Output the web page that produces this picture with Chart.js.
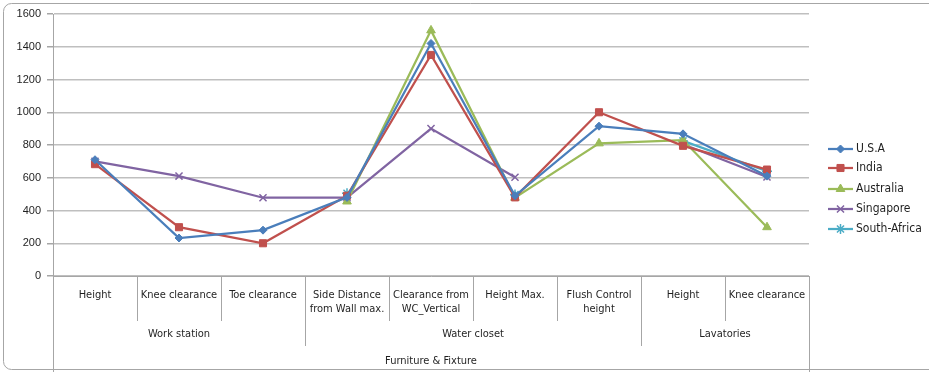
<!DOCTYPE html>
<html>
<head>
<meta charset="utf-8">
<script src="https://cdn.jsdelivr.net/npm/chart.js@4/dist/chart.umd.min.js"></script>
<style>
  html, body { margin: 0; padding: 0; background: #ffffff; }
  #wrap { width: 929px; height: 374px; position: relative; }
</style>
</head>
<body>
<div id="wrap"><canvas id="c" width="929" height="374"></canvas></div>
<script>
// Category names (bottom row of the x axis)
const categories = [
  'Height', 'Knee clearance', 'Toe clearance',
  ['Side Distance', 'from Wall max.'], ['Clearance from', 'WC_Vertical'], 'Height Max.',
  ['Flush Control', 'height'],
  'Height', 'Knee clearance'
];
// Groups: [label, first index, last index]
const groups = [
  ['Work station', 0, 2],
  ['Water closet', 3, 6],
  ['Lavatories', 7, 8]
];
const topGroup = 'Furniture & Fixture';

const yTicks = [0, 200, 400, 600, 800, 1000, 1200, 1400, 1600];

// Series values (mm)
const usa         = [710, 232, 280, 480, 1420, 490, 915, 868, 610];
const india       = [683, 298, 200, 490, 1350, 480, 1000, 795, 650];
const australia   = [null, null, null, 455, 1500, 478, 810, 830, 298];
const singapore   = [700, 610, 478, 478, 900, 603, null, 805, 605];
const southAfrica = [null, null, null, 505, null, 498, null, 825, 640];

const seriesNames = ['U.S.A', 'India', 'Australia', 'Singapore', 'South-Africa'];
const seriesData = [usa, india, australia, singapore, southAfrica];
const colors = ['#4a7ebb', '#c0504d', '#9bbb59', '#8064a2', '#4bacc6'];
const markers = ['rectRot', 'rect', 'triangle', 'crossRot', 'star'];
const radii = [4, 5, 5, 5, 5];

const FONT = "'Liberation Sans Narrow', 'DejaVu Sans Condensed', sans-serif";
const TEXT = '#1f1f1f';

const datasets = seriesData.map((d, i) => ({
  label: seriesNames[i],
  data: d,
  borderColor: colors[i],
  backgroundColor: colors[i],
  borderWidth: 2.25,
  pointStyle: markers[i],
  pointRadius: radii[i],
  pointBorderWidth: (markers[i] === 'crossRot' || markers[i] === 'star') ? 1.5 : 1,
  pointBorderColor: colors[i],
  pointBackgroundColor: colors[i],
  spanGaps: false,
  tension: 0
}));

// Multi-level category axis: dividers and group labels under the x axis
const groupAxis = {
  id: 'groupAxis',
  afterDraw(chart) {
    const ctx = chart.ctx;
    const area = chart.chartArea;
    const n = categories.length;
    const step = (area.right - area.left) / n;
    const edge = i => area.left + step * i;
    const y0 = area.bottom;
    ctx.save();
    ctx.strokeStyle = '#a6a6a6';
    ctx.lineWidth = 1;
    // short dividers between categories
    for (let i = 1; i < n; i++) {
      const isGroupEdge = groups.some(g => g[1] === i);
      const len = isGroupEdge ? 70 : 45;
      const px = Math.round(edge(i)) + 0.5;
      ctx.beginPath(); ctx.moveTo(px, y0); ctx.lineTo(px, y0 + len); ctx.stroke();
    }
    // outer edges
    [0, n].forEach(i => {
      const px = Math.round(edge(i)) + 0.5;
      ctx.beginPath(); ctx.moveTo(px, y0); ctx.lineTo(px, y0 + 96); ctx.stroke();
    });
    // group labels
    ctx.fillStyle = TEXT;
    ctx.font = '11px ' + FONT;
    ctx.textAlign = 'center';
    ctx.textBaseline = 'middle';
    groups.forEach(g => {
      const cx = (edge(g[1]) + edge(g[2] + 1)) / 2;
      ctx.fillText(g[0], cx, y0 + 58);
    });
    ctx.fillText(topGroup, (edge(0) + edge(n)) / 2, y0 + 85);
    ctx.restore();
  }
};

// Legend with a line through each marker
const lineLegend = {
  id: 'lineLegend',
  afterDraw(chart) {
    const ctx = chart.ctx;
    const ys = [149, 168, 189, 209, 229];
    ctx.save();
    chart.data.datasets.forEach((ds, i) => {
      const y = ys[i];
      ctx.strokeStyle = ds.borderColor;
      ctx.lineWidth = 2.25;
      ctx.beginPath(); ctx.moveTo(828, y); ctx.lineTo(853, y); ctx.stroke();
      ctx.fillStyle = ds.backgroundColor;
      ctx.strokeStyle = ds.borderColor;
      ctx.lineWidth = ds.pointBorderWidth;
      Chart.helpers.drawPoint(ctx, {
        pointStyle: ds.pointStyle,
        radius: ds.pointRadius,
        rotation: 0,
        borderWidth: ds.pointBorderWidth
      }, 840.5, y);
      ctx.fillStyle = TEXT;
      ctx.font = '12px ' + FONT;
      ctx.textAlign = 'left';
      ctx.textBaseline = 'middle';
      ctx.fillText(ds.label, 856, y);
    });
    ctx.restore();
  }
};

// Light frame around the whole chart
const frame = {
  id: 'frame',
  beforeDraw(chart) {
    const ctx = chart.ctx;
    ctx.save();
    ctx.fillStyle = '#ffffff';
    ctx.fillRect(0, 0, chart.width, chart.height);
    ctx.strokeStyle = '#a6a6a6';
    ctx.lineWidth = 1;
    ctx.beginPath();
    ctx.roundRect(3.5, 3.5, 940, 366, 8);
    ctx.stroke();
    ctx.restore();
  }
};

new Chart(document.getElementById('c'), {
  type: 'line',
  data: { labels: categories, datasets },
  plugins: [frame, groupAxis, lineLegend],
  options: {
    responsive: false,
    animation: false,
    devicePixelRatio: 1,
    layout: { padding: { top: 14, right: 120, left: 0, bottom: 0 } },
    plugins: {
      legend: { display: false },
      tooltip: { enabled: false }
    },
    scales: {
      x: {
        type: 'category',
        offset: true,
        afterFit(s) { s.height = 98; },
        grid: { display: false, drawOnChartArea: false, drawTicks: false },
        border: { display: true, color: '#a6a6a6', width: 1 },
        ticks: {
          autoSkip: false,
          maxRotation: 0,
          padding: 12,
          color: TEXT,
          font: { family: FONT, size: 11, lineHeight: 1.3 }
        }
      },
      y: {
        min: 0,
        max: 1600,
        afterFit(s) { s.width = 53; },
        afterBuildTicks(s) { s.ticks = yTicks.map(v => ({ value: v })); },
        grid: {
          color: '#bfbfbf',
          lineWidth: 1.5,
          drawTicks: true,
          tickLength: 6,
          tickColor: '#a6a6a6'
        },
        border: { display: true, color: '#a6a6a6', width: 1 },
        ticks: {
          padding: 6,
          color: TEXT,
          font: { family: "'Liberation Sans', sans-serif", size: 11 },
          callback: v => String(v)
        }
      }
    }
  }
});
</script>
</body>
</html>
